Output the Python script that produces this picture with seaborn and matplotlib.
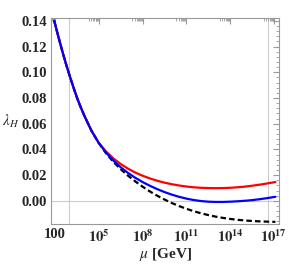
import numpy as np
import pandas as pd
import matplotlib
matplotlib.use("Agg")
import matplotlib.pyplot as plt
import seaborn as sns
from matplotlib.ticker import FixedLocator, FixedFormatter, MultipleLocator, NullFormatter

# ---- data ----
mu_exp = [1.95, 2.25, 2.5, 2.75, 3.0, 3.25, 3.5, 3.75, 4.0, 4.5, 5.0, 5.5, 6.0, 6.5, 7.0,
          7.5, 8.0, 8.5, 9.0, 9.5, 10.0, 10.5, 11.0, 11.5, 12.0, 12.5, 13.0, 13.5,
          14.0, 14.5, 15.0, 15.5, 16.0, 16.5, 17.1]
lam_red = [0.1400, 0.1270, 0.1165, 0.1067, 0.0975, 0.0888, 0.0805, 0.0732, 0.0665, 0.0545,
           0.0450, 0.0383, 0.0330, 0.0286, 0.0250, 0.0220, 0.0195, 0.0174, 0.0156, 0.0141,
           0.0129, 0.0119, 0.0111, 0.0105, 0.0101, 0.0099, 0.0098, 0.0099, 0.0101, 0.0105,
           0.0110, 0.0117, 0.0125, 0.0134, 0.0146]
lam_blue = [0.1400, 0.1270, 0.1165, 0.1067, 0.0975, 0.0888, 0.0805, 0.0732, 0.0665, 0.0545,
            0.0450, 0.0375, 0.0313, 0.0261, 0.0217, 0.0179, 0.0146, 0.0117, 0.0091, 0.0068,
            0.0048, 0.0031, 0.0017, 0.0006, -0.0002, -0.0007, -0.0009, -0.0009, -0.0007,
            -0.0004, 0.0000, 0.0005, 0.0012, 0.0020, 0.0031]
lam_black = [0.1400, 0.1270, 0.1165, 0.1067, 0.0975, 0.0888, 0.0805, 0.0732, 0.0665, 0.0545,
             0.0450, 0.0370, 0.0303, 0.0246, 0.0196, 0.0151, 0.0110, 0.0073, 0.0040, 0.0010,
             -0.0017, -0.0041, -0.0062, -0.0081, -0.0097, -0.0111, -0.0123, -0.0133, -0.0141,
             -0.0148, -0.0153, -0.0157, -0.0160, -0.0162, -0.0164]

xtick_exp = [2, 5, 8, 11, 14, 17]
xtick_labels = ["100", "10^{5}", "10^{8}", "10^{11}", "10^{14}", "10^{17}"]
ytick_vals = [0.00, 0.02, 0.04, 0.06, 0.08, 0.10, 0.12, 0.14]
vline_exp = [2.95, 16.6]

mu = [10 ** e for e in mu_exp]
df = pd.DataFrame({"mu": mu, "red": lam_red, "blue": lam_blue, "black": lam_black})

sns.set_style("white")
plt.rcParams["font.family"] = ["Liberation Serif", "DejaVu Serif"]
plt.rcParams["mathtext.fontset"] = "stix"

fig = plt.figure(figsize=(2.89, 2.68), dpi=100)
ax = fig.add_axes([0.178, 0.163, 0.787, 0.769])
ax.set_xscale("log")

frame_c = "#999999"
ax.axhline(0, color="#cccccc", lw=0.8, zorder=0)
for e in vline_exp:
    ax.axvline(10 ** e, color="#cccccc", lw=0.8, zorder=0)

sns.lineplot(data=df, x="mu", y="black", ax=ax, color="black", lw=1.6,
             sort=False, linestyle=(0, (2.5, 1.4)), zorder=2)
sns.lineplot(data=df, x="mu", y="red", ax=ax, color="#ff0000", lw=1.6, sort=False, zorder=3)
sns.lineplot(data=df, x="mu", y="blue", ax=ax, color="#0000ff", lw=1.6, sort=False, zorder=4)

ax.set_xlim(10 ** 1.76, 10 ** 17.34)
ax.set_ylim(-0.0183, 0.142)

# ticks
ax.xaxis.set_major_locator(FixedLocator([10 ** e for e in xtick_exp]))
ax.xaxis.set_major_formatter(FixedFormatter(
    [r"$\mathbf{" + s + "}$" if "^" in s else s for s in xtick_labels]))
minors = []
for e in xtick_exp:
    for k in range(2, 10):
        minors.append(k * 10 ** (e - 1))
ax.xaxis.set_minor_locator(FixedLocator(minors))
ax.xaxis.set_minor_formatter(NullFormatter())

ax.yaxis.set_major_locator(FixedLocator(ytick_vals))
ax.yaxis.set_major_formatter(FixedFormatter([f"{v:.2f}" for v in ytick_vals]))
ax.yaxis.set_minor_locator(MultipleLocator(0.004))

ax.tick_params(which="both", direction="in", top=True, right=True, color=frame_c)
ax.tick_params(which="major", length=4, width=0.8, labelsize=10.5, pad=3)
ax.tick_params(which="minor", length=2, width=0.6)
for lab in ax.get_xticklabels() + ax.get_yticklabels():
    lab.set_fontweight("bold")

for sp in ax.spines.values():
    sp.set_color(frame_c)
    sp.set_linewidth(0.8)

ax.set_xlabel(r"$\mu$ [GeV]", fontsize=11, fontweight="bold", labelpad=1)
ax.set_ylabel(r"$\lambda_{H}$", fontsize=11, rotation=0, ha="center", va="center")
ax.yaxis.set_label_coords(-0.178, 0.5)

fig.savefig("out.png", dpi=100)
